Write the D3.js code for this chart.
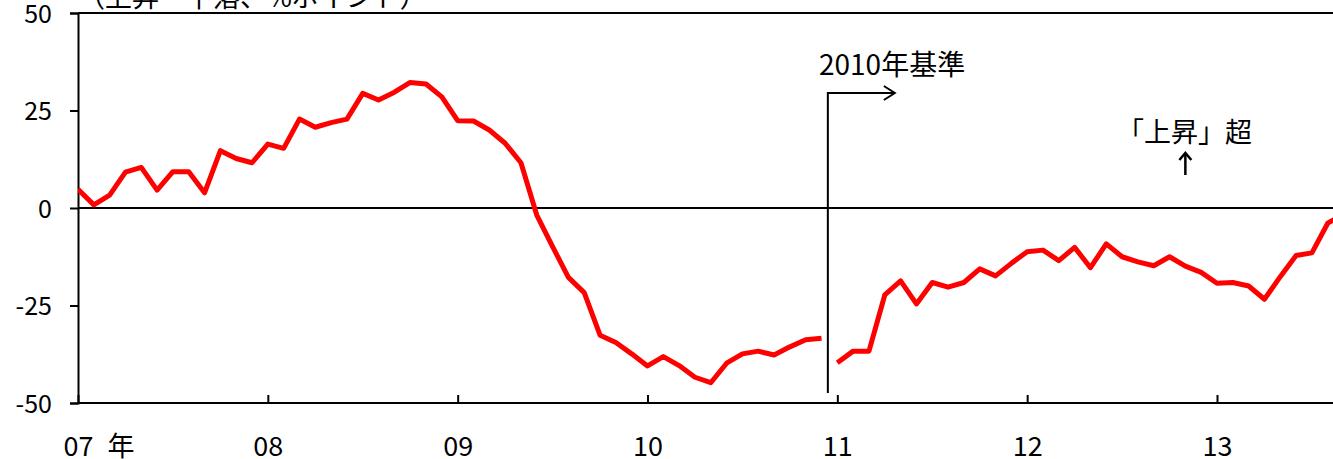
<!DOCTYPE html>
<html>
<head>
<meta charset="utf-8">
<script src="https://cdn.jsdelivr.net/npm/d3@7"></script>
<style>
  body { margin: 0; background: #fff; }
  svg { display: block; }
  text { font-family: "Noto Sans CJK JP", "Noto Sans", sans-serif; fill: #000; }
</style>
</head>
<body>
<div id="chart"></div>
<script>
// year tick labels (one tick every 12 months, month 0 = Jan 2007)
var yearLabels = ["07", "08", "09", "10", "11", "12", "13"];
var yTicks = [-50, -25, 0, 25, 50];

// DI values, Jan 2007 - Dec 2010 (old base)
var seriesOldBase = [
  4.8, 0.8, 3.3, 9.2, 10.4, 4.6, 9.3, 9.3, 3.9, 14.7, 12.7, 11.6,
  16.4, 15.3, 22.8, 20.7, 21.9, 22.8, 29.4, 27.7, 29.7, 32.2, 31.8, 28.5,
  22.4, 22.3, 20.0, 16.6, 11.6, -1.8, -9.9, -17.8, -21.7, -32.6, -34.5, -37.4,
  -40.5, -38.1, -40.4, -43.4, -44.8, -39.8, -37.4, -36.7, -37.7, -35.6, -33.8, -33.4
];
var oldBaseStart = 0;

// DI values, Jan 2011 onwards (2010 base)
var seriesNewBase = [
  -39.7, -36.7, -36.7, -22.3, -18.7, -24.6, -19.1, -20.3, -19.1, -15.6, -17.4, -14.2,
  -11.2, -10.8, -13.5, -10.1, -15.3, -9.2, -12.5, -13.8, -14.8, -12.5, -14.9, -16.5,
  -19.3, -19.1, -20.0, -23.4, -17.6, -12.2, -11.5, -3.9, -1.5
];
var newBaseStart = 48;

var unitLabel = "（上昇－下落、%ポイント）";
var baseNote = "2010年基準";
var riseNote = "「上昇」超";

var width = 1333, height = 459;
var plot = { left: 78, top: 13, bottom: 403, right: 1333 };

var svg = d3.select("#chart").append("svg")
  .attr("width", width)
  .attr("height", height);

var x = d3.scaleLinear()
  .domain([0, 72])
  .range([78, 1217]);

var y = d3.scaleLinear()
  .domain([-50, 50])
  .range([plot.bottom, plot.top]);

svg.append("defs").append("clipPath")
  .attr("id", "plot-clip")
  .append("rect")
  .attr("x", plot.left)
  .attr("y", plot.top)
  .attr("width", plot.right - plot.left)
  .attr("height", plot.bottom - plot.top);

// frame: top line
svg.append("line")
  .attr("x1", plot.left).attr("x2", plot.right)
  .attr("y1", plot.top).attr("y2", plot.top)
  .attr("stroke", "#000").attr("stroke-width", 2);

// zero line
svg.append("line")
  .attr("x1", plot.left).attr("x2", plot.right)
  .attr("y1", y(0)).attr("y2", y(0))
  .attr("stroke", "#000").attr("stroke-width", 2);

// y axis
var yAxis = svg.append("g")
  .attr("transform", "translate(" + plot.left + ",0)")
  .call(d3.axisLeft(y).tickValues(yTicks).tickSize(8).tickPadding(18)
    .tickFormat(d => d < 0 ? "-" + Math.abs(d) : d));
yAxis.select(".domain").attr("stroke", "#000").attr("stroke-width", 2);
yAxis.selectAll(".tick line").attr("stroke", "#000").attr("stroke-width", 2);
yAxis.selectAll(".tick text")
  .attr("font-size", 25)
  .attr("dy", "0.36em")
  .attr("font-family", "\"Noto Sans CJK JP\", sans-serif");

// x axis, ticks pointing up
var xAxis = svg.append("g")
  .attr("transform", "translate(0," + plot.bottom + ")")
  .call(d3.axisBottom(x)
    .tickValues(yearLabels.map((d, i) => i * 12))
    .tickFormat((d, i) => yearLabels[i])
    .tickSizeInner(-8).tickSizeOuter(0));
xAxis.select(".domain")
  .attr("d", "M" + plot.left + ",0H" + plot.right)
  .attr("stroke", "#000").attr("stroke-width", 2);
xAxis.selectAll(".tick line").attr("stroke", "#000").attr("stroke-width", 2);
xAxis.selectAll(".tick text")
  .attr("y", 53)
  .attr("dy", null)
  .attr("font-size", 27)
  .attr("font-family", "\"Noto Sans CJK JP\", sans-serif");

svg.append("text")
  .attr("x", 121)
  .attr("y", 456)
  .attr("text-anchor", "middle")
  .attr("font-size", 27)
  .text("年");

// unit label, cut off at the top as in the source
svg.append("text")
  .attr("x", 78)
  .attr("y", 7)
  .attr("font-size", 27)
  .text(unitLabel);

// series lines
var line = d3.line()
  .x(d => x(d.i))
  .y(d => y(d.v));

var segments = [
  seriesOldBase.map((v, k) => ({ i: oldBaseStart + k, v: v })),
  seriesNewBase.map((v, k) => ({ i: newBaseStart + k, v: v }))
];

svg.append("g")
  .attr("clip-path", "url(#plot-clip)")
  .selectAll("path.series")
  .data(segments)
  .join("path")
  .attr("class", "series")
  .attr("d", line)
  .attr("fill", "none")
  .attr("stroke", "#ff0000")
  .attr("stroke-width", 5)
  .attr("stroke-linejoin", "round");

// base change marker
var bx = x(47.4);
svg.append("path")
  .attr("d", "M" + bx + "," + (plot.bottom - 10) + "V93H" + (bx + 67))
  .attr("fill", "none")
  .attr("stroke", "#000").attr("stroke-width", 2);
svg.append("path")
  .attr("d", "M" + (bx + 56) + ",86L" + (bx + 67) + ",93L" + (bx + 56) + ",100")
  .attr("fill", "none")
  .attr("stroke", "#000").attr("stroke-width", 2);
svg.append("text")
  .attr("x", 819)
  .attr("y", 75)
  .attr("font-size", 28)
  .text(baseNote);

// "rise" note with up arrow
var ax = x(70);
svg.append("text")
  .attr("x", 1117)
  .attr("y", 142)
  .attr("font-size", 27)
  .text(riseNote);
svg.append("path")
  .attr("d", "M" + ax + ",175V153")
  .attr("stroke", "#000").attr("stroke-width", 2.5);
svg.append("path")
  .attr("d", "M" + (ax - 6) + ",160L" + ax + ",153L" + (ax + 6) + ",160")
  .attr("fill", "none")
  .attr("stroke", "#000").attr("stroke-width", 2.5);
</script>
</body>
</html>
